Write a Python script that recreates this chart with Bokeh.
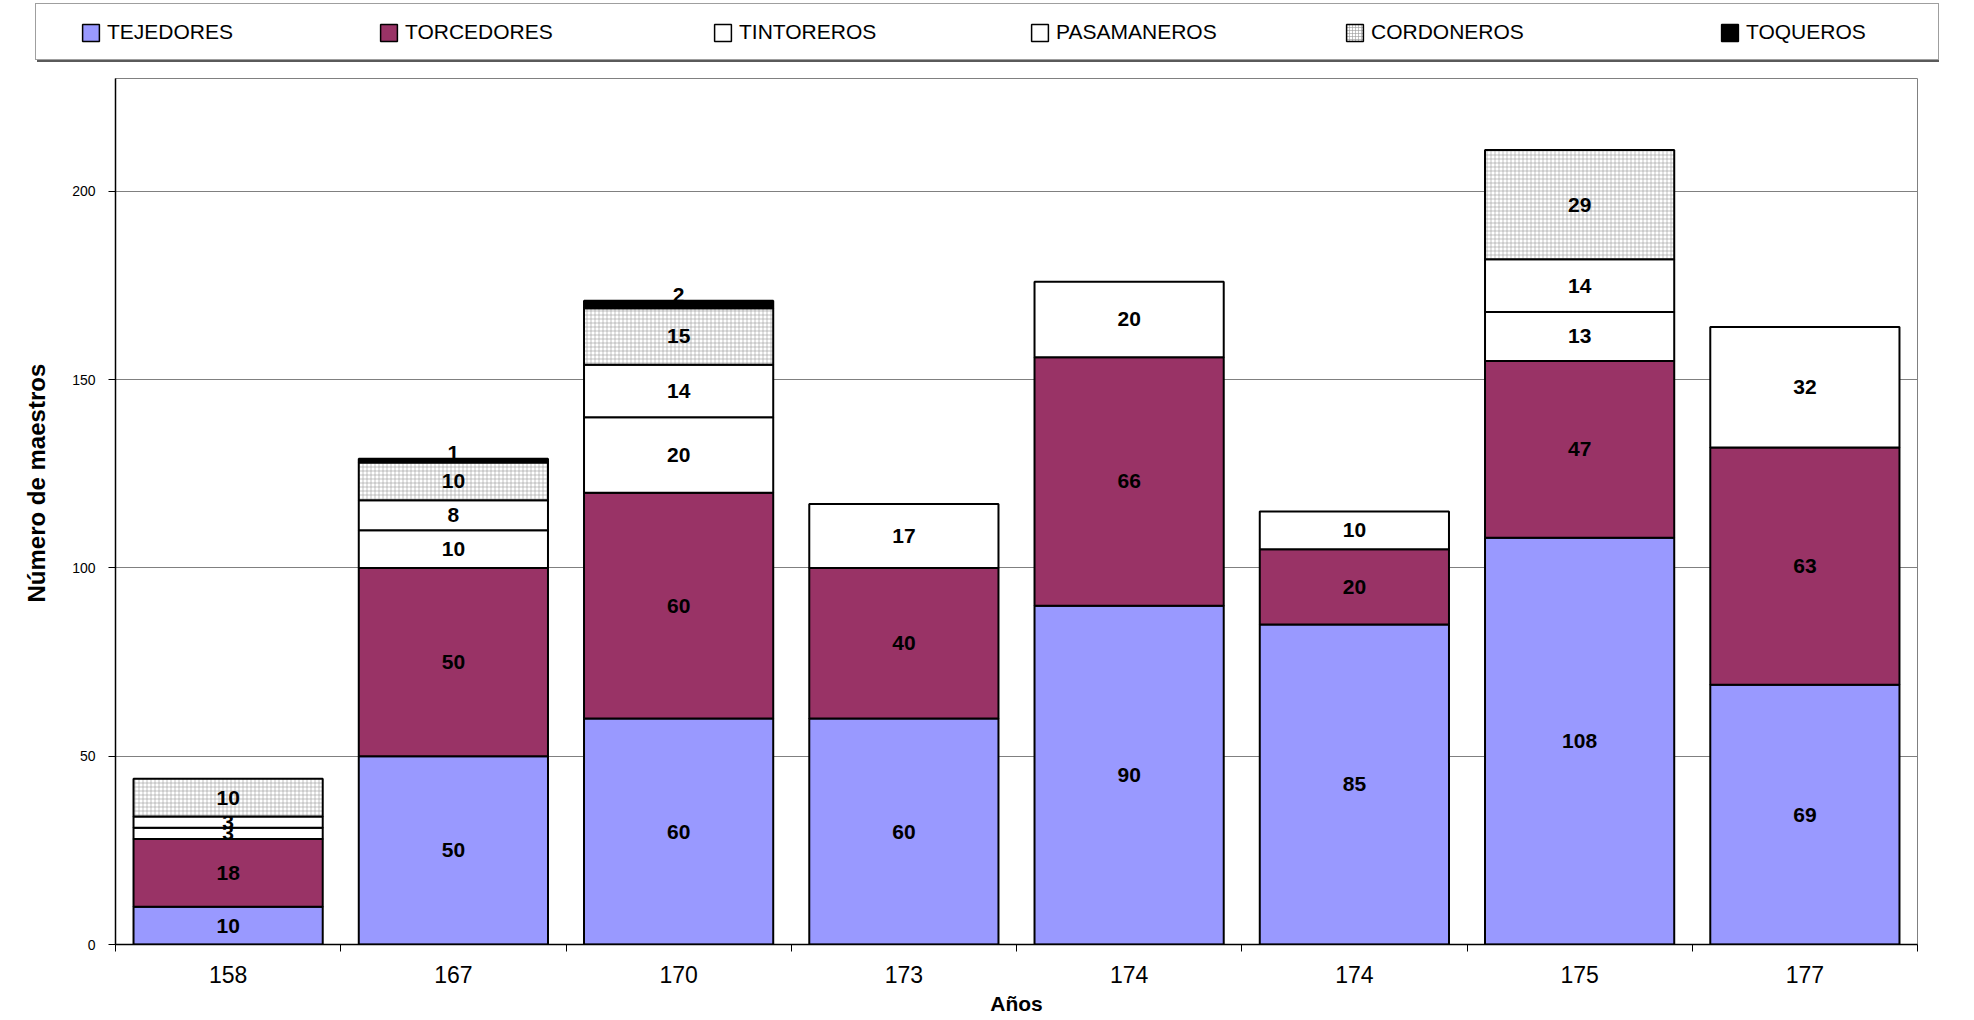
import numpy as np
from bokeh.plotting import figure
from bokeh.models import Range1d, FixedTicker, ColumnDataSource, Legend, LegendItem, Title
from bokeh.embed import file_html
from bokeh.resources import INLINE
from bokeh.core.properties import value

# ---------------- data ----------------
years = ["158", "167", "170", "173", "174", "174", "175", "177"]
tejedores = [10, 50, 60, 60, 90, 85, 108, 69]
torcedores = [18, 50, 60, 40, 66, 20, 47, 63]
tintoreros = [3, 10, 20, 17, 20, 10, 13, 32]
pasamaneros = [3, 8, 14, 0, 0, 0, 14, 0]
cordoneros = [10, 10, 15, 0, 0, 0, 29, 0]
toqueros = [0, 1, 2, 0, 0, 0, 0, 0]
series_names = ["TEJEDORES", "TORCEDORES", "TINTOREROS", "PASAMANEROS", "CORDONEROS", "TOQUEROS"]
y_ticks = [0, 50, 100, 150, 200]

# ---------------- style ----------------
fills = ["#9999FF", "#993366", "#FFFFFF", "#FFFFFF", "#FFFFFF", "#000000"]
hatches = [" ", " ", " ", " ", "+", " "]
FONT = "Liberation Sans"

W, H = 1972, 1018
LEG_H = 64
FRAME_L, FRAME_R, FRAME_T, FRAME_B = 115, 1917, 78, 944

series = [tejedores, torcedores, tintoreros, pasamaneros, cordoneros, toqueros]
xs = np.arange(len(years))


def bar_style(i, lw=2, scale=4):
    kw = dict(fill_color=fills[i], line_color="black", line_width=lw)
    if hatches[i] != " ":
        kw.update(hatch_pattern=hatches[i], hatch_color="#9a9a9a", hatch_scale=scale, hatch_weight=0.6)
    return kw


# ---------------- main chart ----------------
PH = H - LEG_H
p = figure(width=W, height=PH, x_range=Range1d(-0.5, len(years) - 0.5), y_range=Range1d(0, 230),
           output_backend="svg", toolbar_location=None,
           min_border_left=FRAME_L, min_border_right=W - FRAME_R,
           min_border_top=FRAME_T - LEG_H, min_border_bottom=H - FRAME_B)
p.outline_line_color = "#808080"
p.outline_line_width = 1

cum = np.zeros(len(years))
for i, (name, vals) in enumerate(zip(series_names, series)):
    vals = np.array(vals, dtype=float)
    bottom = cum.copy()
    top = cum + vals
    cum = top
    mask = vals > 0
    src = ColumnDataSource(dict(x=xs[mask], bottom=bottom[mask], top=top[mask],
                                mid=((bottom + top) / 2)[mask],
                                lab=[str(int(v)) for v in vals[mask]]))
    p.vbar(x="x", bottom="bottom", top="top", width=0.84, source=src, **bar_style(i))
    if name == "TOQUEROS":
        p.text(x="x", y="top", text="lab", source=src, text_align="center", text_baseline="alphabetic",
               y_offset=-6, text_font=value(FONT), text_font_size="21px", text_font_style="bold",
               text_color="black")
    else:
        p.text(x="x", y="mid", text="lab", source=src, text_align="center", text_baseline="middle",
               text_font=value(FONT), text_font_size="21px", text_font_style="bold", text_color="black")

# grid
p.xgrid.visible = False
p.ygrid.ticker = FixedTicker(ticks=y_ticks[1:])
p.ygrid.grid_line_color = "#808080"
p.ygrid.grid_line_width = 1

# x axis
p.xaxis.ticker = FixedTicker(ticks=list(xs), minor_ticks=list(np.arange(-0.5, len(years), 1.0)))
p.xaxis.major_label_overrides = {int(i): y for i, y in zip(xs, years)}
p.xaxis.major_tick_line_color = None
p.xaxis.major_tick_out = 0
p.xaxis.major_tick_in = 0
p.xaxis.minor_tick_out = 7
p.xaxis.minor_tick_in = 0
p.xaxis.minor_tick_line_color = "black"
p.xaxis.axis_line_color = "black"
p.xaxis.axis_line_width = 1.5
p.xaxis.major_label_standoff = 14
p.xaxis.major_label_text_font = FONT
p.xaxis.major_label_text_font_size = "23px"
p.xaxis.major_label_text_color = "black"
p.xaxis.axis_label = "Años"
p.xaxis.axis_label_text_font = FONT
p.xaxis.axis_label_text_font_size = "21px"
p.xaxis.axis_label_text_font_style = "bold"
p.xaxis.axis_label_text_color = "black"
p.xaxis.axis_label_standoff = 6

# y axis
p.yaxis.ticker = FixedTicker(ticks=y_ticks)
p.yaxis.minor_tick_line_color = None
p.yaxis.major_tick_out = 7
p.yaxis.major_tick_in = 0
p.yaxis.major_tick_line_color = "black"
p.yaxis.axis_line_color = "black"
p.yaxis.axis_line_width = 1.5
p.yaxis.major_label_standoff = 13
p.yaxis.major_label_text_font = FONT
p.yaxis.major_label_text_font_size = "14px"
p.yaxis.major_label_text_color = "black"

# y title: placed on the left, its lower end at canvas y ~602
YT_END = 602
ytitle = Title(text="Número de maestros", align="left", offset=FRAME_B - YT_END, standoff=40,
               text_font=FONT, text_font_size="24px", text_font_style="bold", text_color="black")
p.add_layout(ytitle, "left")

# ---------------- legend strip (own root, frame = whole strip) ----------------
lg = figure(width=W, height=LEG_H, x_range=Range1d(0, W), y_range=Range1d(0, LEG_H),
            x_axis_type=None, y_axis_type=None, output_backend="svg", toolbar_location=None,
            min_border=0, min_border_left=0, min_border_right=0, min_border_top=0, min_border_bottom=0)
lg.outline_line_color = None
lg.grid.visible = False

BOX_L, BOX_R, BOX_T, BOX_B = 35, 1937, 5, 60
NAN = [float("nan")]
dummy = lg.vbar(x=NAN, top=NAN, width=0.1, fill_alpha=0, line_alpha=0)
box_kw = dict(padding=0, margin=0, glyph_width=1, glyph_height=1, label_standoff=0,
              label_width=BOX_R - BOX_L - 1, label_height=BOX_B - BOX_T,
              label_text_font_size="1px", orientation="horizontal")
shadow = Legend(items=[LegendItem(label=" ", renderers=[dummy])],
                location=(BOX_L + 2, LEG_H - BOX_B - 2),
                border_line_color=None, background_fill_color="#5a5a5a", background_fill_alpha=1,
                **box_kw)
box = Legend(items=[LegendItem(label=" ", renderers=[dummy])],
             location=(BOX_L, LEG_H - BOX_B),
             border_line_color="#404040", border_line_width=1.2,
             background_fill_color="white", background_fill_alpha=1, **box_kw)
lg.add_layout(shadow, "center")
lg.add_layout(box, "center")

swatch_x = [80, 378, 712, 1029, 1344, 1719]
ITEM_CY, ITEM_H = 32, 26
for i, name in enumerate(series_names):
    proxy = lg.vbar(x=NAN, top=NAN, width=0.1, **bar_style(i, lw=1.5, scale=3))
    item_legend = Legend(items=[LegendItem(label=name, renderers=[proxy])],
                         location=(swatch_x[i], LEG_H - (ITEM_CY + ITEM_H // 2)),
                         orientation="horizontal", padding=0, margin=0,
                         border_line_color=None, background_fill_alpha=0,
                         glyph_width=21, glyph_height=21, label_standoff=6, label_height=ITEM_H,
                         label_text_font=FONT, label_text_font_size="21px", label_text_color="black")
    lg.add_layout(item_legend, "center")

open("out.html", "w").write(file_html([lg, p], INLINE))
